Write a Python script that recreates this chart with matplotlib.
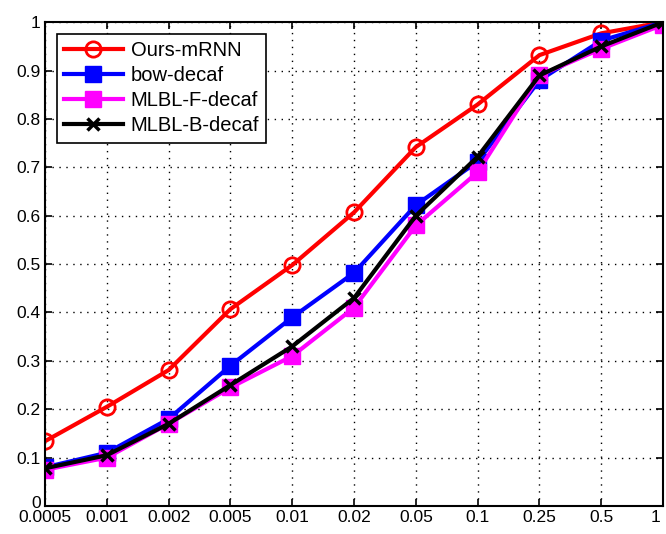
import numpy as np
import matplotlib
matplotlib.use("Agg")
import matplotlib.pyplot as plt
import matplotlib.transforms as mtransforms

x_labels = ["0.0005", "0.001", "0.002", "0.005", "0.01", "0.02", "0.05", "0.1", "0.25", "0.5", "1"]
ours_mrnn = [0.134, 0.205, 0.281, 0.407, 0.498, 0.607, 0.742, 0.830, 0.932, 0.977, 1.0]
bow_decaf = [0.080, 0.110, 0.180, 0.290, 0.390, 0.482, 0.622, 0.712, 0.880, 0.962, 1.0]
mlbl_f = [0.075, 0.100, 0.170, 0.245, 0.310, 0.410, 0.580, 0.690, 0.890, 0.945, 0.995]
mlbl_b = [0.078, 0.105, 0.170, 0.250, 0.330, 0.430, 0.600, 0.722, 0.890, 0.950, 1.0]

plt.rcParams["font.family"] = ["Liberation Sans", "DejaVu Sans"]

fig = plt.figure(figsize=(6.66, 5.34), dpi=100)
ax = fig.add_axes([0.0676, 0.0524, 0.928, 0.906])
xs = np.arange(1, len(x_labels) + 1)

ax.plot(xs, ours_mrnn, color="red", lw=3, marker="o", ms=11, mfc="none", mew=2, label="Ours-mRNN")
ax.plot(xs, bow_decaf, color="blue", lw=3, marker="s", ms=12, mfc="blue", mec="blue", label="bow-decaf")
ax.plot(xs, mlbl_f, color="magenta", lw=3, marker="s", ms=12, mfc="magenta", mec="magenta", label="MLBL-F-decaf")
ax.plot(xs, mlbl_b, color="black", lw=3, marker="x", ms=9, mew=2.5, label="MLBL-B-decaf")

ax.set_xlim(1, 11)
ax.set_ylim(0, 1)
ax.set_xticks(xs)
ax.set_xticklabels(x_labels)
ax.set_yticks(np.arange(0, 1.01, 0.1))
ax.set_yticklabels(["0", "0.1", "0.2", "0.3", "0.4", "0.5", "0.6", "0.7", "0.8", "0.9", "1"])
ax.tick_params(direction="in", top=True, right=True, labelsize=12.5, length=5, width=1.2, pad=3)
ax.grid(True, color="black", ls=(0, (1, 4)), lw=1)
for s in ax.spines.values():
    s.set_linewidth(1.5)

# nudge the edge labels so they stay inside the figure, as in the original
fig.canvas.draw()
last_x = ax.get_xticklabels()[-1]
last_x.set_transform(last_x.get_transform() + mtransforms.ScaledTranslation(-8 / 100, 0, fig.dpi_scale_trans))
first_y = ax.get_yticklabels()[0]
first_y.set_transform(first_y.get_transform() + mtransforms.ScaledTranslation(0, 4 / 100, fig.dpi_scale_trans))

leg = ax.legend(loc="upper left", fontsize=14.5, fancybox=False, framealpha=1,
                edgecolor="black", handlelength=2.9, borderaxespad=0.6, labelspacing=0.3,
                handletextpad=0.4, borderpad=0.35)
leg.get_frame().set_linewidth(1.2)

fig.savefig("out.png", dpi=100)
